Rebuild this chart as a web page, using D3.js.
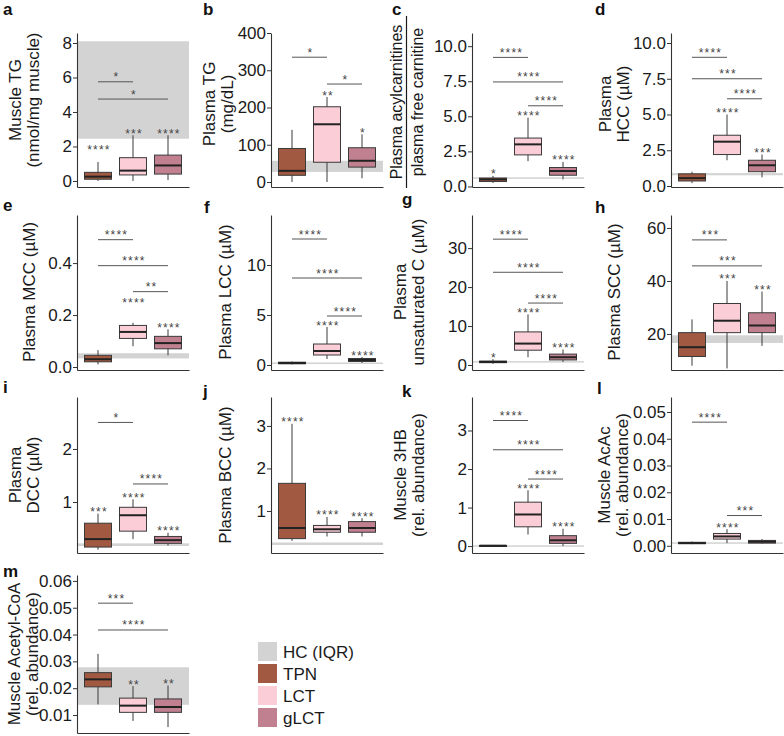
<!DOCTYPE html>
<html>
<head>
<meta charset="utf-8">
<script src="https://cdn.jsdelivr.net/npm/d3@7"></script>
<style>
  body { margin: 0; background: #fff; }
  svg { font-family: "Liberation Sans", Arial, sans-serif; }
</style>
</head>
<body>
<svg id="viz"></svg>
<script>
var width = 784;
var height = 736;

var groups = ["TPN", "LCT", "gLCT"];
var legendLabels = ["HC (IQR)", "TPN", "LCT", "gLCT"];

// box stats per group: [min, q1, median, q3, max]
var muscleTG = [[0, 0.1, 0.25, 0.5, 1.1], [0, 0.35, 0.6, 1.35, 2.65], [0.05, 0.4, 0.9, 1.5, 2.65]];
var plasmaTG = [[0, 18, 30, 90, 140], [0, 53, 155, 202, 228], [10, 40, 57, 92, 128]];
var acylRatio = [[0.25, 0.35, 0.5, 0.6, 0.75], [1.8, 2.25, 3.0, 3.45, 4.9], [0.5, 0.8, 1.1, 1.35, 1.75]];
var plasmaHCC = [[0.2, 0.35, 0.55, 0.85, 1.0], [1.8, 2.2, 3.1, 3.55, 5.0], [0.6, 1.0, 1.45, 1.8, 2.2]];
var plasmaMCC = [[0.01, 0.02, 0.03, 0.045, 0.065], [0.08, 0.11, 0.135, 0.16, 0.17], [0.045, 0.07, 0.092, 0.118, 0.145]];
var plasmaLCC = [[0.05, 0.12, 0.2, 0.28, 0.35], [0.6, 1.0, 1.4, 2.1, 3.8], [0.2, 0.35, 0.5, 0.65, 0.8]];
var plasmaUnsat = [[0.3, 0.6, 0.8, 1.0, 1.5], [2.0, 3.8, 5.5, 8.5, 13.0], [0.8, 1.3, 2.0, 2.8, 4.0]];
var plasmaSCC = [[8, 11.5, 15, 20.5, 25.5], [7, 20.5, 25, 31.5, 40], [15.5, 20.5, 23.2, 28, 36]];
var plasmaDCC = [[0.1, 0.15, 0.3, 0.6, 0.78], [0.3, 0.45, 0.75, 0.9, 1.05], [0.18, 0.22, 0.28, 0.35, 0.42]];
var plasmaBCC = [[0.3, 0.35, 0.6, 1.65, 3.05], [0.4, 0.5, 0.57, 0.66, 0.86], [0.4, 0.5, 0.6, 0.75, 0.83]];
var muscle3HB = [[0, 0.005, 0.01, 0.015, 0.03], [0.3, 0.5, 0.82, 1.14, 1.45], [0, 0.07, 0.15, 0.27, 0.45]];
var muscleAcAc = [[0.0006, 0.0008, 0.001, 0.0013, 0.0016], [0.001, 0.0025, 0.0035, 0.0046, 0.0062], [0.0008, 0.001, 0.0015, 0.002, 0.0025]];
var muscleAcCoA = [[0.014, 0.0205, 0.0233, 0.0258, 0.0328], [0.0078, 0.011, 0.0135, 0.0163, 0.0208], [0.0055, 0.011, 0.013, 0.016, 0.021]];

var panelStats = [muscleTG, plasmaTG, acylRatio, plasmaHCC, plasmaMCC, plasmaLCC, plasmaUnsat,
    plasmaSCC, plasmaDCC, plasmaBCC, muscle3HB, muscleAcAc, muscleAcCoA];

var panelIds = ["a", "b", "c", "d", "e", "f", "g", "h", "i", "j", "k", "l", "m"];

var panelTitles = [
    ["Muscle TG", "(nmol/mg muscle)"],
    ["Plasma TG", "(mg/dL)"],
    ["Plasma acylcarnitines", "plasma free carnitine"],
    ["Plasma", "HCC (\u00b5M)"],
    ["Plasma MCC (\u00b5M)"],
    ["Plasma LCC (\u00b5M)"],
    ["Plasma", "unsaturated C (\u00b5M)"],
    ["Plasma SCC (\u00b5M)"],
    ["Plasma", "DCC (\u00b5M)"],
    ["Plasma BCC (\u00b5M)"],
    ["Muscle 3HB", "(rel. abundance)"],
    ["Muscle AcAc", "(rel. abundance)"],
    ["Muscle Acetyl-CoA", "(rel. abundance)"]
];

// healthy control interquartile range [q1, q3]
var hcBands = [[2.45, 8.1], [27, 57], [0.55, 0.65], [0.75, 0.9], [0.033, 0.053], [0.15, 0.25],
    [0.8, 1.0], [16.6, 19.5], [0.17, 0.22], [0.2, 0.26], [0, 0.02], [0.0008, 0.0013], [0.0138, 0.0278]];

var yTicks = [
    [0, 2, 4, 6, 8], [0, 100, 200, 300, 400], [0, 2.5, 5, 7.5, 10], [0, 2.5, 5, 7.5, 10],
    [0, 0.2, 0.4], [0, 5, 10], [0, 10, 20, 30], [20, 40, 60],
    [1, 2], [1, 2, 3], [0, 1, 2, 3],
    [0, 0.01, 0.02, 0.03, 0.04, 0.05], [0.01, 0.02, 0.03, 0.04, 0.05, 0.06]
];

// significance vs HC, per group
var groupStars = [
    ["****", "***", "****"], ["", "**", "*"], ["*", "****", "****"], ["", "****", "***"],
    ["", "****", "****"], ["", "****", "****"], ["*", "****", "****"], ["", "***", "***"],
    ["***", "****", "****"], ["****", "****", "****"], ["", "****", "****"], ["", "****", ""],
    ["", "**", "**"]
];
// where the group star sits when it is above the whisker (hidden outliers)
var starAt = [[1.68, null, null], [], [], [], [null, 0.242, null], [], [], [], [], [], [], [], []];

// pairwise brackets: [from group, to group, y value, label]
var brackets = [
    [[0, 1, 5.75, "*"], [0, 2, 4.75, "*"]],
    [[0, 1, 335, "*"], [1, 2, 263, "*"]],
    [[0, 1, 9.2, "****"], [0, 2, 7.45, "****"], [1, 2, 5.75, "****"]],
    [[0, 1, 9.0, "****"], [0, 2, 7.5, "***"], [1, 2, 6.1, "****"]],
    [[0, 1, 0.49, "****"], [0, 2, 0.39, "****"], [1, 2, 0.29, "**"]],
    [[0, 1, 12.6, "****"], [0, 2, 8.7, "****"], [1, 2, 4.9, "****"]],
    [[0, 1, 32.3, "****"], [0, 2, 23.8, "****"], [1, 2, 15.9, "****"]],
    [[0, 1, 55.5, "***"], [0, 2, 45.7, "***"]],
    [[0, 1, 2.5, "*"], [1, 2, 1.34, "****"]],
    [],
    [[0, 1, 3.26, "****"], [0, 2, 2.5, "****"], [1, 2, 1.74, "****"]],
    [[0, 1, 0.0462, "****"], [1, 2, 0.0113, "***"]],
    [[0, 1, 0.0517, "***"], [0, 2, 0.0417, "****"]]
];

// ---- layout (pixels) ----
var colX = [77, 271, 472, 671];
var rows = [{ y: 33, h: 154 }, { y: 215, h: 155 }, { y: 397, h: 156 }, { y: 575, h: 158 }];
var layout = [
    { c: 0, r: 0, dom: [-0.35, 8.58], fmt: "d", tx: [15, 33], ty: 100, lx: 3, ly: 15 },
    { c: 1, r: 0, dom: [-13.4, 400], fmt: "d", tx: [209, 227], ty: 104, lx: 203, ly: 15 },
    { c: 2, r: 0, dom: [-0.04, 10.94], fmt: ".1f", tx: [396, 417], ty: 102, lx: 392, ly: 15 },
    { c: 3, r: 0, dom: [-0.07, 10.7], fmt: ".1f", tx: [605, 623], ty: 104, lx: 595, ly: 15 },
    { c: 0, r: 1, dom: [-0.0115, 0.585], fmt: ".1f", tx: [29], ty: 292, lx: 3, ly: 211 },
    { c: 1, r: 1, dom: [-0.5, 15], fmt: "d", tx: [225], ty: 292, lx: 204, ly: 213 },
    { c: 2, r: 1, dom: [-1.28, 38.5], fmt: "d", tx: [400, 418], ty: 292, lx: 402, ly: 205 },
    { c: 3, r: 1, dom: [6.4, 64.9], fmt: "d", tx: [614], ty: 292, lx: 595, ly: 213 },
    { c: 0, r: 2, dom: [0.038, 2.98], fmt: "d", tx: [15, 33], ty: 475, lx: 3, ly: 393 },
    { c: 1, r: 2, dom: [0.012, 3.68], fmt: "d", tx: [225], ty: 475, lx: 203, ly: 397 },
    { c: 2, r: 2, dom: [-0.18, 3.87], fmt: "d", tx: [400, 418], ty: 475, lx: 402, ly: 397 },
    { c: 3, r: 2, dom: [-0.0027, 0.0556], fmt: ".2f", tx: [604, 622], ty: 475, lx: 597, ly: 394 },
    { c: 0, r: 3, dom: [0.0033, 0.0622], fmt: ".2f", tx: [14, 32], ty: 654, lx: 3, ly: 577 }
];
var panelW = 112;

var fills = { "TPN": "#a15a41", "LCT": "#facdd7", "gLCT": "#c08090" };
var hcFill = "#d3d3d3";

var svg = d3.select("#viz")
    .attr("width", width)
    .attr("height", height);

svg.append("rect").attr("width", width).attr("height", height).attr("fill", "#fff");

panelStats.forEach(function (stats, i) {
    var L = layout[i];
    var x0 = colX[L.c];
    var top = rows[L.r].y;
    var bottom = top + rows[L.r].h;
    var g = svg.append("g").attr("class", "panel-" + panelIds[i]);

    var y = d3.scaleLinear().domain(L.dom).range([bottom, top]);
    var x = d3.scalePoint().domain(groups).range([x0 + 21, x0 + 91]);
    var boxW = 27;

    // HC band
    var band = hcBands[i];
    var bTop = Math.max(top, y(band[1]));
    var bBot = Math.min(bottom, y(band[0]));
    g.append("rect")
        .attr("x", x0)
        .attr("width", panelW)
        .attr("y", bTop)
        .attr("height", Math.max(1.5, bBot - bTop))
        .attr("fill", hcFill);

    // boxes
    var boxes = g.selectAll("g.box")
        .data(stats)
        .enter().append("g")
        .attr("class", "box");

    boxes.append("line")
        .attr("x1", function (d, j) { return x(groups[j]); })
        .attr("x2", function (d, j) { return x(groups[j]); })
        .attr("y1", function (d) { return Math.min(bottom, y(d[0])); })
        .attr("y2", function (d) { return y(d[4]); })
        .attr("stroke", "#3a3a3a")
        .attr("stroke-width", 1);

    boxes.append("rect")
        .attr("x", function (d, j) { return x(groups[j]) - boxW / 2; })
        .attr("width", boxW)
        .attr("y", function (d) { return y(d[3]); })
        .attr("height", function (d) { return Math.max(1, y(d[1]) - y(d[3])); })
        .attr("fill", function (d, j) { return fills[groups[j]]; })
        .attr("stroke", "#3a3a3a")
        .attr("stroke-width", 1);

    boxes.append("line")
        .attr("x1", function (d, j) { return x(groups[j]) - boxW / 2; })
        .attr("x2", function (d, j) { return x(groups[j]) + boxW / 2; })
        .attr("y1", function (d) { return y(d[2]); })
        .attr("y2", function (d) { return y(d[2]); })
        .attr("stroke", "#222")
        .attr("stroke-width", 2);

    // stars vs HC
    boxes.append("text")
        .attr("x", function (d, j) { return x(groups[j]) + 1; })
        .attr("y", function (d, j) {
            var s = starAt[i][j];
            return y(s != null ? s : d[4]) + 2.5;
        })
        .attr("text-anchor", "middle")
        .attr("font-size", 12)
        .attr("letter-spacing", 1.2)
        .attr("fill", "#444")
        .text(function (d, j) { return groupStars[i][j]; });

    // brackets
    var br = g.selectAll("g.bracket")
        .data(brackets[i])
        .enter().append("g")
        .attr("class", "bracket");

    br.append("line")
        .attr("x1", function (d) { return x(groups[d[0]]); })
        .attr("x2", function (d) { return x(groups[d[1]]); })
        .attr("y1", function (d) { return y(d[2]); })
        .attr("y2", function (d) { return y(d[2]); })
        .attr("stroke", "#555")
        .attr("stroke-width", 1);

    br.append("text")
        .attr("x", function (d) { return (x(groups[d[0]]) + x(groups[d[1]])) / 2 + 1; })
        .attr("y", function (d) { return y(d[2]) - 0.5; })
        .attr("text-anchor", "middle")
        .attr("font-size", 12)
        .attr("letter-spacing", 1.2)
        .attr("fill", "#444")
        .text(function (d) { return d[3]; });

    // axes
    var yAxis = d3.axisLeft(y)
        .tickValues(yTicks[i])
        .tickFormat(d3.format(L.fmt))
        .tickSize(4)
        .tickSizeOuter(0);

    var ya = g.append("g")
        .attr("transform", "translate(" + x0 + ",0)")
        .call(yAxis);
    ya.select(".domain").attr("stroke", "#333").attr("stroke-width", 1.1);
    ya.selectAll(".tick line").attr("stroke", "#333");
    ya.selectAll(".tick text")
        .attr("font-size", 17)
        .attr("font-family", "'Liberation Sans', Arial, sans-serif")
        .attr("fill", "#1a1a1a")
        .attr("x", -5);

    var xs = d3.scaleLinear().domain([0, 1]).range([x0, x0 + panelW]);
    var xa = g.append("g")
        .attr("transform", "translate(0," + bottom + ")")
        .call(d3.axisBottom(xs).tickValues([]).tickSizeOuter(0));
    xa.select(".domain").attr("stroke", "#333").attr("stroke-width", 1.1);

    // y title
    var title = panelTitles[i];
    title.forEach(function (t, k) {
        g.append("text")
            .attr("transform", "translate(" + L.tx[k] + "," + L.ty + ") rotate(-90)")
            .attr("dy", "0.35em")
            .attr("text-anchor", "middle")
            .attr("font-size", panelIds[i] === "c" ? 16 : 17)
            .attr("fill", "#1a1a1a")
            .text(t);
    });
    if (panelIds[i] === "c") {
        g.append("line")
            .attr("x1", 406.5).attr("x2", 406.5)
            .attr("y1", L.ty - 86).attr("y2", L.ty + 86)
            .attr("stroke", "#1a1a1a")
            .attr("stroke-width", 1.2);
    }

    // panel letter
    g.append("text")
        .attr("x", L.lx)
        .attr("y", L.ly)
        .attr("font-size", 17)
        .attr("font-weight", "bold")
        .attr("fill", "#111")
        .text(panelIds[i]);
});

// legend
var legendColors = [hcFill, fills.TPN, fills.LCT, fills.gLCT];
var legend = svg.append("g")
    .attr("transform", "translate(258,642)");

var items = legend.selectAll("g")
    .data(legendLabels)
    .enter().append("g")
    .attr("transform", function (d, i) { return "translate(0," + i * 22 + ")"; });

items.append("rect")
    .attr("width", 19)
    .attr("height", 19)
    .attr("fill", function (d, i) { return legendColors[i]; });

items.append("text")
    .attr("x", 25)
    .attr("y", 10)
    .attr("dy", "0.35em")
    .attr("font-size", 17)
    .attr("fill", "#1a1a1a")
    .text(function (d) { return d; });
</script>
</body>
</html>
